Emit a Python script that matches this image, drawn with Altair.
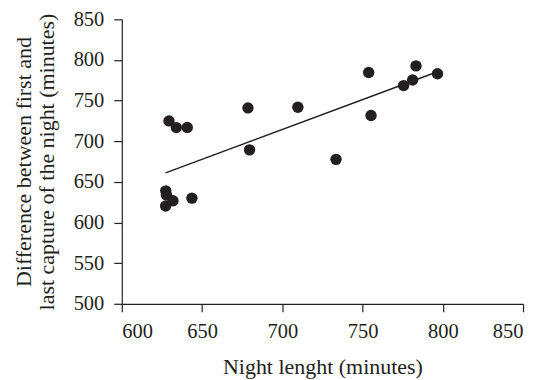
import altair as alt
import pandas as pd

night_length = [629.4, 634.0, 640.8, 678.6, 709.7, 679.6, 733.5, 753.8, 755.3,
                775.6, 781.2, 783.3, 796.7, 627.4, 627.8, 631.9, 627.3, 643.7]
capture_span = [725.0, 716.8, 717.0, 741.0, 741.9, 689.4, 677.7, 784.6, 731.7,
                768.5, 775.3, 792.7, 783.0, 639.0, 634.0, 626.8, 620.4, 630.0]

df = pd.DataFrame({"night": night_length, "span": capture_span})

FONT = "Liberation Serif"
INK = "#231f20"

x = alt.X("night:Q", title="Night lenght (minutes)",
          scale=alt.Scale(domain=[600, 850], nice=False, zero=False),
          axis=alt.Axis(values=[600, 650, 700, 750, 800, 850]))
y = alt.Y("span:Q", title=["Difference between first and", "last capture of the night (minutes)"],
          scale=alt.Scale(domain=[500, 850], nice=False, zero=False),
          axis=alt.Axis(values=[500, 550, 600, 650, 700, 750, 800, 850]))

points = alt.Chart(df).mark_circle(size=130, color=INK, opacity=1).encode(x=x, y=y)
trend = alt.Chart(df).transform_regression("night", "span").mark_line(
    color=INK, strokeWidth=1.5).encode(x=x, y=y)

chart = (trend + points).properties(
    width=402, height=285,
    autosize=alt.AutoSizeParams(type="none"),
    padding={"left": 114, "top": 11, "right": 20, "bottom": 75},
).configure_view(stroke=None).configure_axis(
    grid=False,
    domainColor=INK, tickColor=INK, domainWidth=1.2, tickWidth=1.2,
    tickSize=8,
    labelFont=FONT, labelFontSize=20.5, labelColor=INK,
    titleFont=FONT, titleFontSize=22, titleFontWeight="normal", titleColor=INK,
    titleLineHeight=23,
).configure_axisX(titlePadding=14, labelPadding=10).configure_axisY(
    titlePadding=15, labelPadding=10)

chart.save("out.html", embed_options={"renderer": "svg", "actions": False})
